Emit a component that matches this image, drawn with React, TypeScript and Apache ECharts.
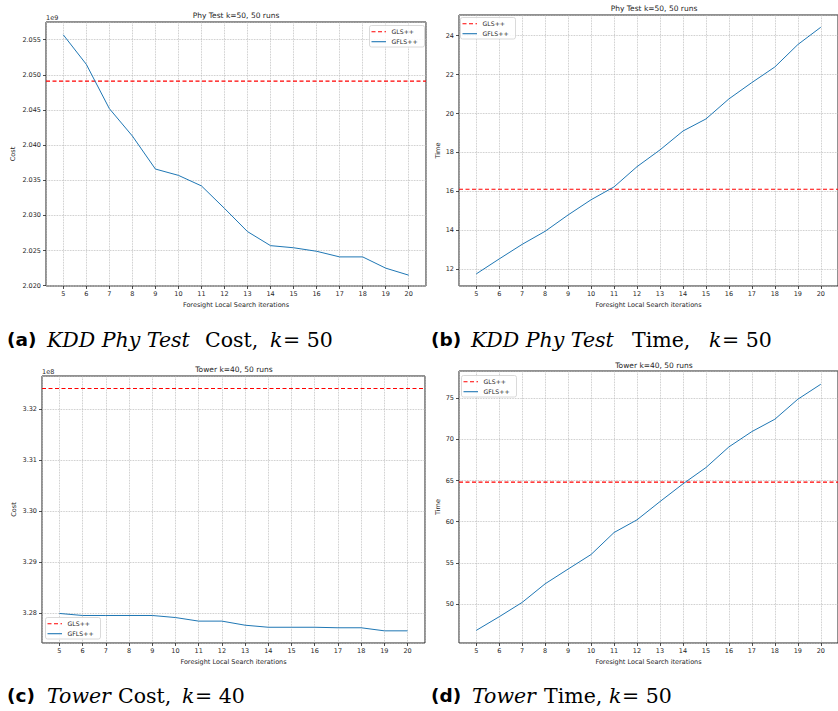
import React, { useEffect, useRef } from "react";
import * as echarts from "echarts";

const iterations = [5, 6, 7, 8, 9, 10, 11, 12, 13, 14, 15, 16, 17, 18, 19, 20];

const phyCostGFLS = [
  2.0557e9, 2.0515e9, 2.0452e9, 2.0413e9, 2.0366e9, 2.0357e9, 2.0342e9, 2.031e9,
  2.0277e9, 2.0257e9, 2.0254e9, 2.0249e9, 2.0241e9, 2.0241e9, 2.0225e9, 2.0215e9,
];
const phyCostGLS = 2.0491e9;

const phyTimeGFLS = [
  11.76, 12.53, 13.28, 13.95, 14.79, 15.57, 16.23, 17.27, 18.13, 19.1, 19.72, 20.75,
  21.59, 22.39, 23.54, 24.43,
];
const phyTimeGLS = 16.11;

const towerCostGFLS = [
  3.28e8, 3.2796e8, 3.2796e8, 3.2796e8, 3.2796e8, 3.2792e8, 3.2785e8, 3.2785e8,
  3.2777e8, 3.2773e8, 3.2773e8, 3.2773e8, 3.2772e8, 3.2772e8, 3.2766e8, 3.2766e8,
];
const towerCostGLS = 3.324e8;

const towerTimeGFLS = [
  46.8, 48.46, 50.2, 52.46, 54.25, 56.02, 58.69, 60.23, 62.45, 64.6, 66.58, 69.09,
  70.95, 72.45, 74.88, 76.7,
];
const towerTimeGLS = 64.8;

const xLimits = [4.25, 20.75];

const panelTitles = ["Phy Test k=50, 50 runs", "Phy Test k=50, 50 runs", "Tower k=40, 50 runs", "Tower k=40, 50 runs"];
const yNames = ["Cost", "Time", "Cost", "Time"];
const xName = "Foresight Local Search iterations";
const seriesNames = ["GLS++", "GFLS++"];

const captionLabels = ["a", "b", "c", "d"];
const captionDatasets = ["KDD Phy Test", "KDD Phy Test", "Tower", "Tower"];
const captionMetrics = ["Cost,", "Time,", "Cost,", "Time,"];
const captionK = ["50", "50", "40", "50"];

const BLUE = "#1f77b4";
const RED = "#ff0000";
const TXT = "#262626";
const SANS = "DejaVu Sans";
const SERIF = "DejaVu Serif";
const GLS_DASH = [4, 2.5];

export default function App() {
  const ref = useRef<HTMLDivElement>(null);

  useEffect(() => {
    if (!ref.current) return;
    const chart = echarts.init(ref.current, undefined, { renderer: "svg" });

    const grids = [
      { left: 46, top: 22, right: 838 - 426, bottom: 711 - 286 },
      { left: 459, top: 15, right: -10, bottom: 711 - 286 },
      { left: 42, top: 376, right: 838 - 425, bottom: 711 - 643 },
      { left: 459, top: 371, right: -10, bottom: 711 - 643 },
    ];
    const yRanges = [
      { min: 2.01996e9, max: 2.05752e9, step: 5e6, fmt: (v: number) => (v / 1e9).toFixed(3) },
      { min: 11.14, max: 25.06, step: 2, fmt: (v: number) => String(Math.round(v)) },
      { min: 3.27422e8, max: 3.32645e8, step: 1e6, fmt: (v: number) => (v / 1e8).toFixed(2) },
      { min: 45.27, max: 78.31, step: 5, fmt: (v: number) => String(Math.round(v)) },
    ];
    const gflsData = [phyCostGFLS, phyTimeGFLS, towerCostGFLS, towerTimeGFLS];
    const glsData = [phyCostGLS, phyTimeGLS, towerCostGLS, towerTimeGLS];
    const yNameGaps = [30, 18, 25, 18];

    const gridLine = { show: true, lineStyle: { color: "#b8b8b8", type: "dotted", width: 0.8 } };
    const tick = { show: true, inside: false, length: 3, lineStyle: { color: "#222", width: 0.8 } };

    const xAxes = grids.map((_, i) => ({
      type: "value",
      gridIndex: i,
      min: xLimits[0],
      max: xLimits[1],
      minInterval: 1,
      maxInterval: 1,
      splitNumber: 16,
      name: xName,
      nameLocation: "middle",
      nameGap: 15,
      nameTextStyle: { fontSize: 6.5, color: TXT, fontFamily: SANS },
      axisLine: { show: false },
      axisTick: tick,
      axisLabel: {
        fontSize: 6.5,
        color: TXT,
        fontFamily: SANS,
        margin: 4,
        showMinLabel: false,
        showMaxLabel: false,
      },
      splitLine: gridLine,
    }));

    const yAxes = grids.map((_, i) => ({
      type: "value",
      gridIndex: i,
      min: yRanges[i].min,
      max: yRanges[i].max,
      minInterval: yRanges[i].step,
      maxInterval: yRanges[i].step,
      splitNumber: 8,
      name: yNames[i],
      nameLocation: "middle",
      nameGap: yNameGaps[i],
      nameRotate: 90,
      nameTextStyle: { fontSize: 6.5, color: TXT, fontFamily: SANS },
      axisLine: { show: false },
      axisTick: tick,
      axisLabel: {
        fontSize: 6.5,
        color: TXT,
        fontFamily: SANS,
        margin: 5,
        showMinLabel: false,
        showMaxLabel: false,
        formatter: yRanges[i].fmt,
      },
      splitLine: gridLine,
    }));

    const series: any[] = [];
    grids.forEach((_, i) => {
      series.push({
        type: "line",
        name: seriesNames[0],
        xAxisIndex: i,
        yAxisIndex: i,
        symbol: "none",
        lineStyle: { color: RED, width: 1.2, type: GLS_DASH },
        itemStyle: { color: RED },
        data: [
          [xLimits[0], glsData[i]],
          [xLimits[1], glsData[i]],
        ],
        z: 3,
      });
      series.push({
        type: "line",
        name: seriesNames[1],
        xAxisIndex: i,
        yAxisIndex: i,
        symbol: "none",
        lineStyle: { color: BLUE, width: 1 },
        itemStyle: { color: BLUE },
        data: iterations.map((x, k) => [x, gflsData[i][k]]),
        z: 4,
      });
    });

    // hand-drawn legends (matplotlib style boxes)
    const legendPos = [
      { x: 369, y: 25 },
      { x: 460, y: 17 },
      { x: 45, y: 617 },
      { x: 461, y: 375 },
    ];
    const legendGraphics: any[] = [];
    legendPos.forEach((p) => {
      legendGraphics.push({
        type: "rect",
        z: 20,
        shape: { x: p.x + 0.5, y: p.y + 0.5, width: 55, height: 21.5, r: 2 },
        style: { fill: "rgba(255,255,255,0.85)", stroke: "#d0d0d0", lineWidth: 0.8 },
      });
      const rows = [
        { color: RED, dash: GLS_DASH, label: seriesNames[0], dy: 6.7 },
        { color: BLUE, dash: null, label: seriesNames[1], dy: 16.7 },
      ];
      rows.forEach((r) => {
        legendGraphics.push({
          type: "line",
          z: 21,
          shape: { x1: p.x + 2.5, y1: p.y + r.dy, x2: p.x + 17, y2: p.y + r.dy },
          style: { stroke: r.color, lineWidth: 1.1, lineDash: r.dash || undefined },
        });
        legendGraphics.push({
          type: "text",
          z: 21,
          x: p.x + 22.5,
          y: p.y + r.dy,
          style: {
            text: r.label,
            fontSize: 6.2,
            fontFamily: SANS,
            fill: TXT,
            verticalAlign: "middle",
          },
        });
      });
    });

    const titleCenters = [
      { left: 236, top: 11 },
      { left: 654, top: 4 },
      { left: 234, top: 365 },
      { left: 654, top: 361 },
    ];
    const titles = titleCenters.map((c, i) => ({
      text: panelTitles[i],
      left: c.left,
      top: c.top,
      textAlign: "center",
      padding: 0,
      textStyle: { fontSize: 7.5, fontWeight: "normal", color: TXT, fontFamily: SANS },
    }));

    // caption layout: x start, y, fragment widths of [label, dataset, metric, k]
    const capLayout = [
      { x: 7, y: 329, w: [40, 158, 65, 13] },
      { x: 431, y: 329, w: [40, 161, 77, 13] },
      { x: 7, y: 685, w: [40, 71, 64, 13] },
      { x: 431, y: 685, w: [41, 72, 65, 13] },
    ];
    const SERIF_SIZE = 20.5;
    const captions = capLayout.map((c, i) => ({
      type: "text",
      x: c.x,
      y: c.y,
      style: {
        text: `{b|(${captionLabels[i]})}{it|${captionDatasets[i]}}{rm|${captionMetrics[i]}}{k|k}{eq|= ${captionK[i]}}`,
        rich: {
          b: { fontFamily: SANS, fontWeight: "bold", fontSize: 18.5, fill: "#000", width: c.w[0] },
          it: { fontFamily: SERIF, fontStyle: "italic", fontSize: SERIF_SIZE, fill: "#000", width: c.w[1] },
          rm: { fontFamily: SERIF, fontSize: SERIF_SIZE, fill: "#000", width: c.w[2] },
          k: { fontFamily: SERIF, fontStyle: "italic", fontSize: SERIF_SIZE, fill: "#000", width: c.w[3] },
          eq: { fontFamily: SERIF, fontSize: SERIF_SIZE, fill: "#000" },
        },
        fill: "#000",
      },
    }));

    chart.setOption({
      animation: false,
      backgroundColor: "#ffffff",
      title: titles,
      grid: grids.map((g) => ({
        ...g,
        show: true,
        borderColor: "#222",
        borderWidth: 1,
        backgroundColor: "transparent",
        containLabel: false,
      })),
      xAxis: xAxes,
      yAxis: yAxes,
      series,
      graphic: [
        { type: "text", x: 46, y: 14, style: { text: "1e9", fontSize: 6.5, fill: TXT, fontFamily: SANS } },
        { type: "text", x: 42, y: 368, style: { text: "1e8", fontSize: 6.5, fill: TXT, fontFamily: SANS } },
        ...legendGraphics,
        ...captions,
      ],
    });

    return () => chart.dispose();
  }, []);

  return (
    <div
      ref={ref}
      style={{ position: "absolute", left: 0, top: 0, width: 838, height: 711, background: "#fff" }}
    />
  );
}
